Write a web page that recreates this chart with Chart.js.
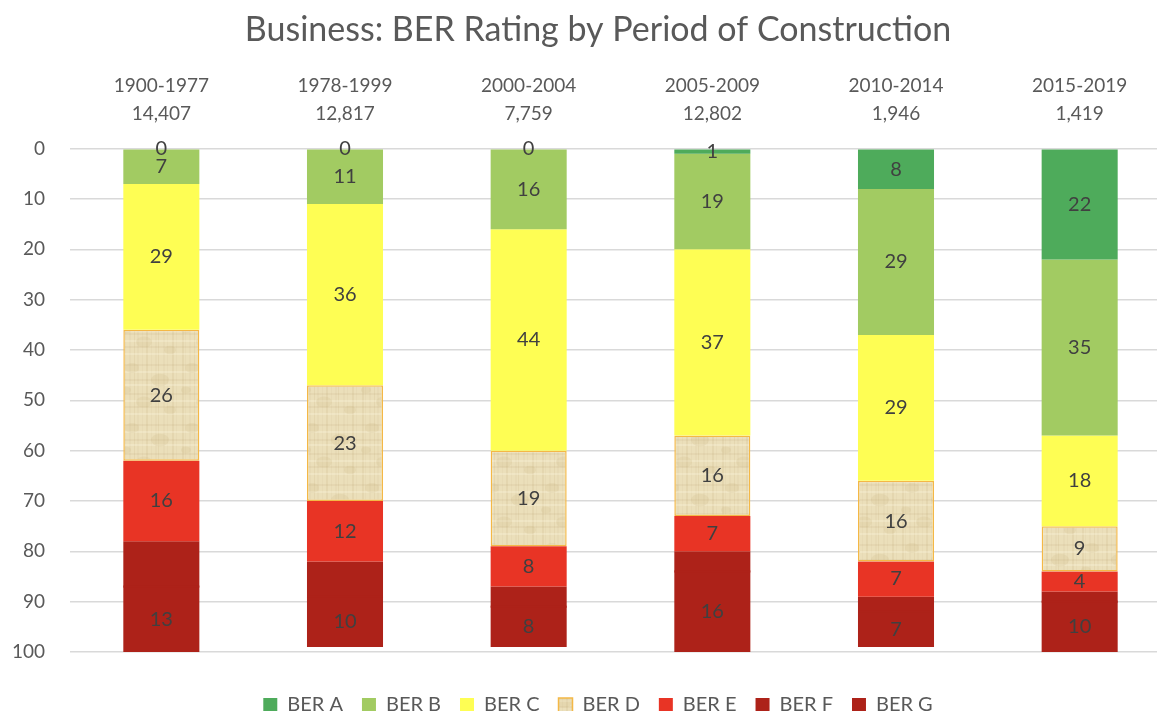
<!DOCTYPE html>
<html>
<head>
<meta charset="utf-8">
<title>Business: BER Rating by Period of Construction</title>
<script src="https://cdn.jsdelivr.net/npm/chart.js@4/dist/chart.umd.min.js"></script>
<style>
  html, body { margin: 0; padding: 0; background: #fff; overflow: hidden; }
  #wrap { width: 1196px; height: 725px; }
</style>
</head>
<body>
<div id="wrap"><canvas id="berChart" width="1196" height="725"></canvas></div>
<script>
// Period of construction and number of buildings in each
const periods = ['1900-1977', '1978-1999', '2000-2004', '2005-2009', '2010-2014', '2015-2019'];
const buildingCounts = ['14,407', '12,817', '7,759', '12,802', '1,946', '1,419'];

// Share of buildings (%) per BER band
const berA = [0, 0, 0, 1, 8, 22];
const berB = [7, 11, 16, 19, 29, 35];
const berC = [29, 36, 44, 37, 29, 18];
const berD = [26, 23, 19, 16, 16, 9];
const berE = [16, 12, 8, 7, 7, 4];
const berF = [9, 7, 4, 4, 3, 2];
const berG = [13, 10, 8, 16, 7, 10];

const yTicks = [0, 10, 20, 30, 40, 50, 60, 70, 80, 90, 100];

const textColor = '#595959';
const fontFamily = 'Lato, "Open Sans", sans-serif';
const darkRed = '#ad2219';

// papyrus-like fill used for BER D
function makePapyrus() {
    const c = document.createElement('canvas');
    c.width = 60;
    c.height = 60;
    const g = c.getContext('2d');
    g.fillStyle = '#ebdfba';
    g.fillRect(0, 0, 60, 60);
    // faint vertical fibres
    const vx = [2, 5, 9, 14, 17, 22, 26, 31, 35, 38, 43, 47, 52, 56];
    vx.forEach((x, k) => {
        g.fillStyle = k % 3 === 0 ? 'rgba(180,155,100,0.12)' : 'rgba(200,180,130,0.09)';
        g.fillRect(x, 0, k % 2 ? 1 : 2, 60);
    });
    // faint horizontal fibres
    const hy = [4, 11, 19, 24, 33, 40, 46, 53];
    hy.forEach((y, k) => {
        g.fillStyle = k % 2 === 0 ? 'rgba(175,150,95,0.1)' : 'rgba(255,250,230,0.25)';
        g.fillRect(0, y, 60, 2);
    });
    // a few soft blotches
    const spots = [[12, 8, 7], [40, 20, 9], [24, 42, 8], [50, 50, 6], [6, 30, 5]];
    spots.forEach(([x, y, r]) => {
        g.fillStyle = 'rgba(205,185,135,0.2)';
        g.beginPath();
        g.ellipse(x, y, r, r * 0.7, 0, 0, Math.PI * 2);
        g.fill();
    });
    return g.createPattern(c, 'repeat');
}

// draws the value in the middle of each segment
const segmentLabels = {
    id: 'segmentLabels',
    afterDatasetsDraw(chart) {
        const ctx = chart.ctx;
        ctx.save();

        // F and G share a colour: cover the anti-aliasing seam between them
        const gIndex = chart.data.datasets.findIndex(ds => ds.label === 'BER G');
        ctx.fillStyle = darkRed;
        chart.getDatasetMeta(gIndex).data.forEach(bar => {
            const { x, y, base, width } = bar.getProps(['x', 'y', 'base', 'width'], true);
            const top = Math.min(y, base);
            ctx.fillRect(x - width / 2, top - 1, width, 2);
        });

        ctx.font = '20px ' + fontFamily;
        ctx.fillStyle = '#404040';
        ctx.textAlign = 'center';
        ctx.textBaseline = 'middle';
        chart.data.datasets.forEach((ds, i) => {
            if (ds.hideLabels) return;
            chart.getDatasetMeta(i).data.forEach((bar, j) => {
                const { x, y, base } = bar.getProps(['x', 'y', 'base'], true);
                ctx.fillText(String(ds.data[j]), x, (y + base) / 2);
            });
        });
        ctx.restore();
    }
};

const categoryLabels = periods.map((p, i) => [p, buildingCounts[i]]);

function series(label, data, color, extra) {
    return Object.assign({
        label: label,
        data: data,
        backgroundColor: color,
        borderWidth: 0,
        categoryPercentage: 0.414,
        barPercentage: 1
    }, extra || {});
}

new Chart(document.getElementById('berChart'), {
    type: 'bar',
    data: {
        labels: categoryLabels,
        datasets: [
            series('BER A', berA, '#4eab5b'),
            series('BER B', berB, '#a2cb62'),
            series('BER C', berC, '#fefe54'),
            series('BER D', berD, makePapyrus(), { borderColor: '#f4b846', borderWidth: 1.5, borderSkipped: false }),
            series('BER E', berE, '#e83425'),
            series('BER F', berF, darkRed, { hideLabels: true }),
            series('BER G', berG, darkRed)
        ]
    },
    options: {
        responsive: false,
        animation: false,
        devicePixelRatio: 1,
        layout: { padding: 0 },
        plugins: {
            title: {
                display: true,
                text: 'Business: BER Rating by Period of Construction',
                color: textColor,
                font: { family: fontFamily, size: 34, weight: 'normal' },
                padding: { top: 10, bottom: 0 }
            },
            legend: {
                position: 'bottom',
                labels: {
                    color: textColor,
                    font: { family: fontFamily, size: 20 },
                    boxWidth: 14,
                    boxHeight: 14,
                    padding: 19
                }
            },
            tooltip: { enabled: false }
        },
        scales: {
            x: {
                position: 'top',
                stacked: true,
                grid: { display: false, drawTicks: false },
                border: { display: false },
                ticks: {
                    color: textColor,
                    font: { family: fontFamily, size: 19, lineHeight: 1.47 },
                    padding: 21,
                    maxRotation: 0
                }
            },
            xb: {
                position: 'bottom',
                grid: { display: false, drawTicks: false },
                border: { display: false },
                ticks: { display: false },
                afterFit: s => { s.height = 24; }
            },
            y: {
                stacked: true,
                reverse: true,
                min: 0,
                max: 100,
                afterBuildTicks: s => { s.ticks = yTicks.map(v => ({ value: v })); },
                afterFit: s => { s.width = 69.5; },
                grid: { color: '#d9d9d9', lineWidth: 1.5, drawTicks: false },
                border: { display: false },
                ticks: {
                    color: textColor,
                    font: { family: fontFamily, size: 19 },
                    padding: 24.5
                }
            },
            yr: {
                position: 'right',
                grid: { display: false, drawTicks: false },
                border: { display: false },
                ticks: { display: false },
                afterFit: s => { s.width = 24.5; }
            }
        }
    },
    plugins: [segmentLabels]
});
</script>
</body>
</html>
